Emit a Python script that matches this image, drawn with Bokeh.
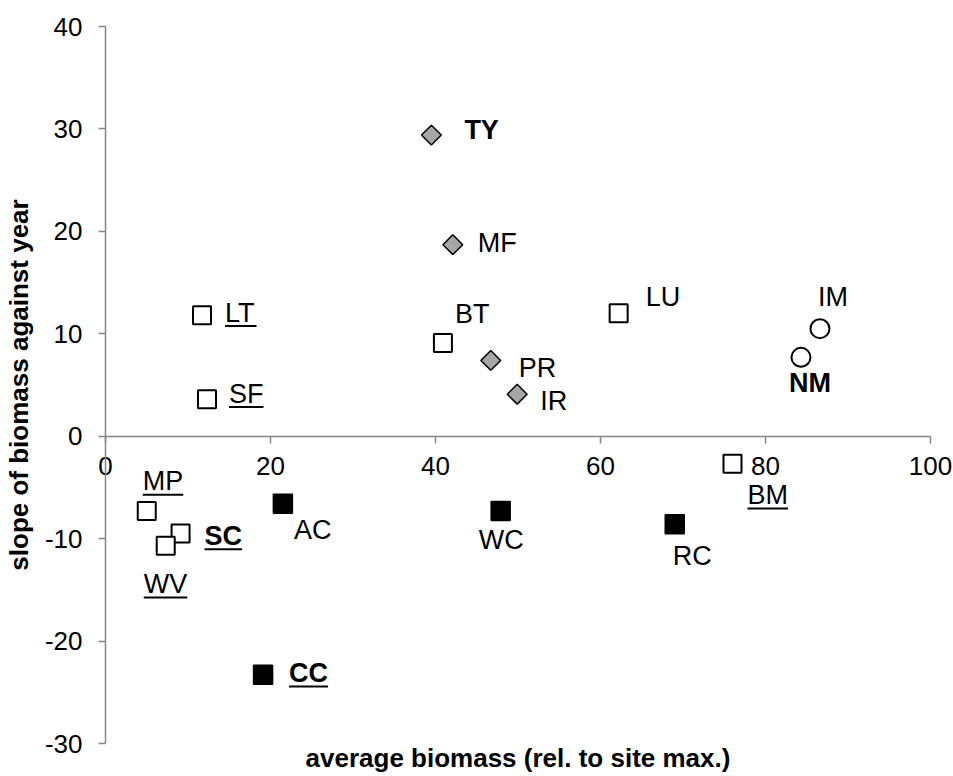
from bokeh.plotting import figure
from bokeh.models import Range1d, LinearAxis, FixedTicker, Label
from bokeh.core.properties import value
from bokeh.embed import file_html
from bokeh.resources import INLINE
import math

# ---------------- data ----------------
open_sq_names = ["LT", "SF", "MP", "SC", "WV", "BT", "LU", "BM"]
open_sq_x = [11.7, 12.3, 5.0, 9.1, 7.3, 40.9, 62.2, 76.0]
open_sq_y = [11.8, 3.6, -7.3, -9.5, -10.7, 9.1, 12.0, -2.7]

black_sq_names = ["AC", "CC", "WC", "RC"]
black_sq_x = [21.5, 19.1, 47.9, 69.0]
black_sq_y = [-6.6, -23.3, -7.3, -8.6]

diamond_names = ["TY", "MF", "PR", "IR"]
diamond_x = [39.5, 42.1, 46.7, 49.9]
diamond_y = [29.4, 18.7, 7.4, 4.1]

circle_names = ["IM", "NM"]
circle_x = [86.6, 84.3]
circle_y = [10.5, 7.7]

x_ticks = [0, 20, 40, 60, 80, 100]
y_ticks = [-30, -20, -10, 0, 10, 20, 30, 40]
x_min, x_max = 0, 100
y_min, y_max = -30, 40

x_title = "average biomass (rel. to site max.)"
y_title = "slope of biomass against year"

bold_names = ["TY", "NM", "SC", "CC"]
underlined_names = ["LT", "SF", "MP", "SC", "WV", "CC", "BM"]

# label placement (pixels: dx to text left, dy to text middle, screen down +)
label_offsets = {
    "TY": (33, -6), "MF": (25, -2), "BT": (12, -30), "PR": (28, 7),
    "IR": (23, 6), "LU": (27, -17), "IM": (-2, -32), "NM": (-12, 25),
    "BM": (15, 31), "RC": (-2, 31), "WC": (-22, 29), "AC": (11, 26),
    "CC": (26, -2), "MP": (-4, -30), "SC": (24, 2), "WV": (-22, 38),
    "LT": (23, -3), "SF": (22, -6),
}

# ---------------- layout (pixels) ----------------
W, H = 953, 776
PLOT_L, PLOT_R, PLOT_T, PLOT_B = 105, 930, 26, 743
FONT = "Liberation Sans"
LABEL_PX = 27
AXIS_GRAY = "#868686"

sx = (PLOT_R - PLOT_L) / (x_max - x_min)   # px per x unit
sy = (PLOT_B - PLOT_T) / (y_max - y_min)   # px per y unit

# the frame covers the whole canvas so that axes drawn at fixed
# locations (Excel style, x axis crossing at y = 0) are not clipped
x_range = Range1d(x_min - PLOT_L / sx, x_max + (W - PLOT_R) / sx)
y_range = Range1d(y_min - (H - PLOT_B) / sy, y_max + PLOT_T / sy)

p = figure(frame_width=W, frame_height=H, x_range=x_range, y_range=y_range,
           x_axis_location=None, y_axis_location=None,
           output_backend="svg", toolbar_location=None,
           min_border=0)
p.outline_line_color = None
p.grid.visible = False
p.background_fill_color = "white"
p.border_fill_color = "white"

yax = LinearAxis(ticker=FixedTicker(ticks=y_ticks), axis_label=y_title,
                 fixed_location=x_min, bounds=(y_min, y_max),
                 major_label_overrides={t: str(t) for t in y_ticks})
xax = LinearAxis(ticker=FixedTicker(ticks=x_ticks), fixed_location=0,
                 bounds=(x_min, x_max),
                 major_label_overrides={t: str(t) for t in x_ticks})
for ax in (xax, yax):
    ax.axis_line_color = AXIS_GRAY
    ax.axis_line_width = 1.5
    ax.major_tick_line_color = AXIS_GRAY
    ax.major_tick_line_width = 1.5
    ax.major_tick_out = 7
    ax.major_tick_in = 0
    ax.minor_tick_line_color = None
    ax.major_label_text_font = FONT
    ax.major_label_text_font_size = "26px"
    ax.major_label_text_color = "black"
yax.major_label_standoff = 16
yax.axis_label_text_font = FONT
yax.axis_label_text_font_size = "26px"
yax.axis_label_text_font_style = "bold"
yax.axis_label_text_color = "black"
yax.axis_label_standoff = 8
xax.major_label_standoff = 14
p.add_layout(yax, "left")
p.add_layout(xax, "below")

p.add_layout(Label(x=(x_min + x_max) / 2, y=y_min, y_offset=-14,
                   text=x_title, text_align="center", text_baseline="middle",
                   text_font=FONT, text_font_size="26px",
                   text_font_style="bold", text_color="black"))

# ---------------- markers ----------------
p.scatter(open_sq_x, open_sq_y, marker="square", size=18,
          fill_color="white", line_color="black", line_width=2)
p.scatter(black_sq_x, black_sq_y, marker="square", size=19,
          fill_color="black", line_color="black", line_width=1.5)
p.scatter(diamond_x, diamond_y, marker="square", size=14, angle=math.pi / 4,
          fill_color="#A6A6A6", line_color="black", line_width=1.5)
p.scatter(circle_x, circle_y, marker="circle", size=19,
          fill_color="white", line_color="black", line_width=2)

# ---------------- labels ----------------
REG_W = {"M": .833, "P": .667, "W": .944, "V": .667, "L": .556, "T": .611,
         "S": .667, "F": .611, "B": .667, "C": .722, "A": .667, "R": .722,
         "U": .722, "I": .278, "N": .722, "Y": .667}
BOLD_W = {"M": .833, "P": .667, "W": .944, "V": .667, "L": .611, "T": .611,
          "S": .667, "F": .611, "B": .722, "C": .722, "A": .722, "R": .722,
          "U": .722, "I": .278, "N": .722, "Y": .667}

all_names = open_sq_names + black_sq_names + diamond_names + circle_names
all_x = open_sq_x + black_sq_x + diamond_x + circle_x
all_y = open_sq_y + black_sq_y + diamond_y + circle_y

cap_half = 0.358 * LABEL_PX

groups = {"normal": dict(x=[], y=[], t=[], xo=[], yo=[]),
          "bold": dict(x=[], y=[], t=[], xo=[], yo=[])}
ul_x0, ul_x1, ul_y = [], [], []
for n, x, y in zip(all_names, all_x, all_y):
    dx, dy = label_offsets[n]
    g = groups["bold" if n in bold_names else "normal"]
    g["x"].append(x); g["y"].append(y); g["t"].append(n)
    g["xo"].append(dx); g["yo"].append(dy + 0.5)
    if n in underlined_names:
        wt = BOLD_W if n in bold_names else REG_W
        w = sum(wt[c] for c in n) * LABEL_PX
        ul_x0.append(x + dx / sx)
        ul_x1.append(x + (dx + w) / sx)
        ul_y.append(y - (dy + cap_half + 4) / sy)

for style, g in groups.items():
    p.text(x=g["x"], y=g["y"], text=g["t"], x_offset=g["xo"], y_offset=g["yo"],
           text_font=value(FONT), text_font_size=f"{LABEL_PX}px",
           text_font_style=style, text_baseline="alphabetic",
           text_align="left", text_color="black")

p.segment(x0=ul_x0, y0=ul_y, x1=ul_x1, y1=ul_y, line_color="black", line_width=2)

open("out.html", "w").write(file_html(p, INLINE))
